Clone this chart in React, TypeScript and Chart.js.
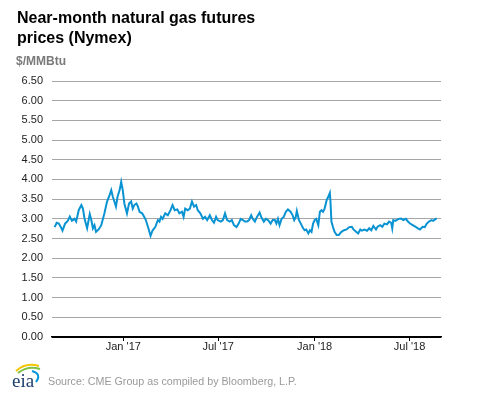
import React, { useEffect, useRef } from "react";
import { Chart, registerables } from "chart.js";

Chart.register(...registerables);

const dates: string[] = [
  "2016-08-23","2016-08-27","2016-08-31","2016-09-04","2016-09-07","2016-09-12","2016-09-17","2016-09-21","2016-09-25","2016-09-30",
  "2016-10-03","2016-10-08","2016-10-13","2016-10-16","2016-10-19","2016-10-24","2016-10-29","2016-11-01","2016-11-04","2016-11-07",
  "2016-11-10","2016-11-15","2016-11-20","2016-11-26","2016-12-01","2016-12-06","2016-12-09","2016-12-12","2016-12-15","2016-12-18",
  "2016-12-21","2016-12-25","2016-12-28","2016-12-31","2017-01-03","2017-01-08","2017-01-12","2017-01-16","2017-01-19","2017-01-22",
  "2017-01-26","2017-01-29","2017-02-01","2017-02-06","2017-02-10","2017-02-13","2017-02-17","2017-02-22","2017-02-26","2017-03-03",
  "2017-03-08","2017-03-11","2017-03-14","2017-03-17","2017-03-22","2017-03-27","2017-04-01","2017-04-05","2017-04-09","2017-04-14",
  "2017-04-18","2017-04-23","2017-04-26","2017-04-29","2017-05-04","2017-05-08","2017-05-12","2017-05-16","2017-05-20","2017-05-23",
  "2017-05-28","2017-06-02","2017-06-06","2017-06-10","2017-06-15","2017-06-19","2017-06-23","2017-06-27","2017-06-30","2017-07-06",
  "2017-07-10","2017-07-14","2017-07-18","2017-07-23","2017-07-27","2017-07-31","2017-08-05","2017-08-09","2017-08-13","2017-08-17",
  "2017-08-21","2017-08-25","2017-08-29","2017-09-02","2017-09-05","2017-09-09","2017-09-13","2017-09-18","2017-09-21","2017-09-26",
  "2017-09-30","2017-10-04","2017-10-09","2017-10-13","2017-10-17","2017-10-20","2017-10-23","2017-10-26","2017-10-30","2017-11-03",
  "2017-11-07","2017-11-11","2017-11-16","2017-11-20","2017-11-23","2017-11-26","2017-11-28","2017-12-02","2017-12-07","2017-12-10",
  "2017-12-13","2017-12-16","2017-12-20","2017-12-23","2017-12-26","2017-12-29","2018-01-01","2018-01-04","2018-01-08","2018-01-11",
  "2018-01-14","2018-01-17","2018-01-20","2018-01-24","2018-01-27","2018-01-30","2018-01-31","2018-02-02","2018-02-05","2018-02-08",
  "2018-02-12","2018-02-16","2018-02-21","2018-02-26","2018-03-03","2018-03-08","2018-03-13","2018-03-16","2018-03-21","2018-03-25",
  "2018-03-29","2018-04-01","2018-04-06","2018-04-11","2018-04-15","2018-04-19","2018-04-23","2018-04-28","2018-05-01","2018-05-06",
  "2018-05-10","2018-05-14","2018-05-19","2018-05-23","2018-05-27","2018-05-29","2018-05-31","2018-06-04","2018-06-10","2018-06-15",
  "2018-06-19","2018-06-24","2018-06-28","2018-07-02","2018-07-07","2018-07-12","2018-07-17","2018-07-21","2018-07-26","2018-07-30",
  "2018-08-03","2018-08-07","2018-08-12","2018-08-15","2018-08-20","2018-08-22",
];

const prices: number[] = [
  2.79,2.90,2.88,2.79,2.70,2.88,2.95,3.06,2.95,3.00,
  2.93,3.22,3.35,3.26,3.01,2.76,3.12,2.97,2.76,2.84,
  2.67,2.73,2.84,3.14,3.44,3.61,3.73,3.56,3.44,3.31,
  3.56,3.73,3.94,3.73,3.39,3.14,3.39,3.44,3.26,3.35,
  3.39,3.31,3.18,3.14,3.05,2.97,2.80,2.57,2.71,2.79,
  2.97,2.93,3.05,3.00,3.14,3.09,3.22,3.35,3.22,3.24,
  3.14,3.18,3.05,3.26,3.22,3.26,3.44,3.31,3.35,3.22,
  3.14,3.00,3.05,2.97,3.09,2.97,2.90,3.05,2.97,2.93,
  2.97,3.14,2.97,2.93,2.97,2.84,2.79,2.88,3.00,2.97,
  2.93,2.93,2.97,3.09,3.00,2.93,3.05,3.16,3.05,2.93,
  3.00,2.97,2.88,2.97,2.97,2.88,3.00,2.84,3.00,3.05,
  3.18,3.24,3.18,3.09,2.97,3.05,3.20,2.97,2.84,2.76,
  2.71,2.73,2.63,2.71,2.67,2.88,2.97,3.00,2.84,3.18,
  3.22,3.18,3.26,3.48,3.56,3.66,3.48,2.93,2.79,2.67,
  2.59,2.59,2.67,2.71,2.73,2.79,2.80,2.73,2.67,2.63,
  2.73,2.70,2.73,2.70,2.76,2.71,2.82,2.73,2.80,2.84,
  2.80,2.88,2.86,2.93,2.90,2.76,2.97,2.95,3.00,3.01,
  2.97,3.00,2.93,2.88,2.84,2.80,2.76,2.73,2.80,2.79,
  2.88,2.93,2.97,2.95,3.00,3.00,
];

const tickDates: string[] = ["2017-01-01", "2017-07-01", "2018-01-01", "2018-07-01"];
const tickLabels: string[] = ["Jan '17", "Jul '17", "Jan '18", "Jul '18"];
const axisStart = "2016-08-18";
const axisEnd = "2018-08-30";

const yMin = 0;
const yMax = 6.5;
const yStep = 0.5;

const DAY = 86400000;
const toDay = (s: string) => {
  const [y, m, d] = s.split("-").map(Number);
  return Date.UTC(y, m - 1, d) / DAY;
};

function EiaLogo() {
  return (
    <svg width="32" height="28" viewBox="0 0 32 28" style={{ position: "absolute", left: 11, top: 361 }}>
      <path d="M5 10 Q15 1 28 5" stroke="#f2c500" strokeWidth="2" fill="none" />
      <path d="M7 12 Q17 4 29 8" stroke="#7dc243" strokeWidth="2" fill="none" />
      <path d="M21 10 Q31 13 25 21" stroke="#0096d7" strokeWidth="2" fill="none" />
      <text x="1" y="26" fontFamily="'Liberation Serif', serif" fontSize="19" fill="#1d3f6e">eia</text>
    </svg>
  );
}

export default function App() {
  const ref = useRef<HTMLCanvasElement>(null);

  useEffect(() => {
    if (!ref.current) return;
    const pts = dates.map((d, i) => ({ x: toDay(d), y: prices[i] }));
    const tickVals = tickDates.map(toDay);
    const chart = new Chart(ref.current, {
      type: "line",
      data: {
        datasets: [
          {
            data: pts,
            borderColor: "#0a93d2",
            borderWidth: 2,
            pointRadius: 0,
            tension: 0,
            fill: false,
          },
        ],
      },
      options: {
        animation: false,
        responsive: false,
        devicePixelRatio: 1,
        layout: { padding: { left: 0, top: 81, right: 36, bottom: 36 } },
        plugins: { legend: { display: false }, tooltip: { enabled: false } },
        scales: {
          x: {
            type: "linear",
            min: toDay(axisStart),
            max: toDay(axisEnd),
            afterBuildTicks: (scale: any) => {
              scale.ticks = tickVals.map((v) => ({ value: v }));
            },
            afterFit: (scale: any) => {
              scale.height = 20;
            },
            ticks: {
              autoSkip: false,
              maxRotation: 0,
              padding: -1,
              color: "#222",
              font: { family: "Arial, 'Liberation Sans', sans-serif", size: 11 },
              callback: (v: any) => {
                const i = tickVals.indexOf(Number(v));
                return i >= 0 ? tickLabels[i] : "";
              },
            },
            grid: { display: true, drawOnChartArea: false, drawTicks: true, tickLength: 4, color: "#000" },
            border: { display: true, color: "#000", width: 1.5 },
          },
          y: {
            min: yMin,
            max: yMax,
            afterFit: (scale: any) => {
              scale.width = 52;
            },
            ticks: {
              stepSize: yStep,
              padding: 9,
              color: "#222",
              font: { family: "Arial, 'Liberation Sans', sans-serif", size: 11 },
              callback: (v: any) => Number(v).toFixed(2),
            },
            grid: {
              drawTicks: false,
              color: (ctx: any) => (ctx.tick && ctx.tick.value === 0 ? "#000" : "#a6a6a6"),
            },
            border: { display: false },
          },
        },
      },
    });
    return () => chart.destroy();
  }, []);

  return (
    <div style={{ position: "absolute", left: 0, top: 0, width: 477, height: 393, background: "#fff", fontFamily: "Arial, 'Liberation Sans', sans-serif" }}>
      <canvas ref={ref} width={477} height={393} style={{ position: "absolute", left: 0, top: 0, width: 477, height: 393 }} />
      <div style={{ position: "absolute", left: 17, top: 8, fontSize: 16, fontWeight: "bold", lineHeight: "20px", color: "#000" }}>
        Near-month natural gas futures
        <br />
        prices (Nymex)
      </div>
      <div style={{ position: "absolute", left: 16, top: 54, fontSize: 12, fontWeight: "bold", color: "#7a7a7a" }}>$/MMBtu</div>
      <EiaLogo />
      <div style={{ position: "absolute", left: 48, top: 375, fontSize: 10.7, color: "#9a9a9a" }}>
        Source: CME Group as compiled by Bloomberg, L.P.
      </div>
    </div>
  );
}
